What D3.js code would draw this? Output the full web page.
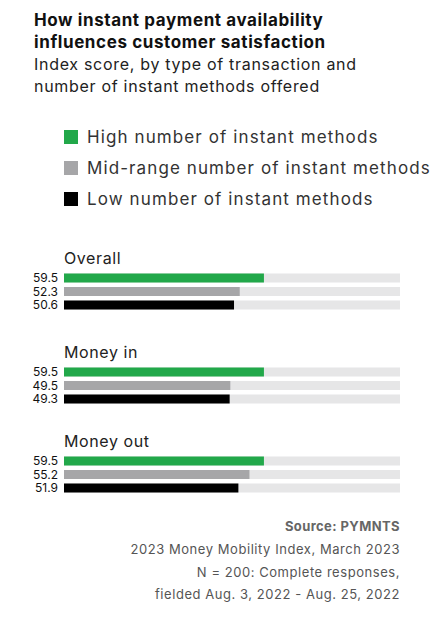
<!DOCTYPE html><html><head><meta charset="utf-8"><script src="https://cdn.jsdelivr.net/npm/d3@7"></script>
<style>body{margin:0;background:#fff;font-family:Inter,"Open Sans",sans-serif}</style></head><body><svg id="c" width="441" height="619"></svg>
<script>
const groups=["Overall","Money in","Money out"];
const series=["High number of instant methods","Mid-range number of instant methods","Low number of instant methods"];
const colors=["#22a84a","#a6a6a8","#000000"];
const high=[59.5,59.5,59.5];
const mid=[52.3,49.5,55.2];
const low=[50.6,49.3,51.9];
const vals=[high,mid,low];
const svg=d3.select("#c");
const x=d3.scaleLinear().domain([0,100]).range([64,400]);
const T=(xx,y,fs,t,o={})=>svg.append("text").attr("x",xx).attr("y",y).attr("font-size",fs).attr("fill",o.fill||"#222").attr("font-weight",o.fw||400).attr("letter-spacing",o.ls||0).attr("text-anchor",o.anchor||"start").text(t);
T(34,26,17,"How instant payment availability",{fw:700,fill:"#111",ls:0.6});
T(34,48,17,"influences customer satisfaction",{fw:700,fill:"#111",ls:0.6});
T(34,70,16,"Index score, by type of transaction and",{ls:0.7});
T(34,92,16,"number of instant methods offered",{ls:0.7});
series.forEach((s,i)=>{const y=137+i*31;
svg.append("rect").attr("x",64).attr("y",y-7).attr("width",14).attr("height",14).attr("fill",colors[i]);
T(87,y+6,17,s,{fill:"#333",ls:1.1});});
groups.forEach((g,gi)=>{const y0=[258,352,441][gi];
T(64,y0+6,16,g,{ls:0.6});
vals.forEach((v,si)=>{const yc=y0+20+si*13.5;
svg.append("rect").attr("x",x(0)).attr("y",yc-4.5).attr("width",x(100)-x(0)).attr("height",9).attr("fill","#e6e6e7");
svg.append("rect").attr("x",x(0)).attr("y",yc-4.5).attr("width",x(v[gi])-x(0)).attr("height",9).attr("fill",colors[si]);
T(58,yc+4,12,v[gi].toFixed(1),{anchor:"end",fill:"#111"});});});
const src=["2023 Money Mobility Index, March 2023","N = 200: Complete responses,","fielded Aug. 3, 2022 - Aug. 25, 2022"];
T(400,531,13,"Source: PYMNTS",{anchor:"end",fw:700,fill:"#666",ls:0.4});
src.forEach((t,i)=>T(400,554+i*22.5,13,t,{anchor:"end",fill:"#555",ls:0.55}));
</script></body></html>
